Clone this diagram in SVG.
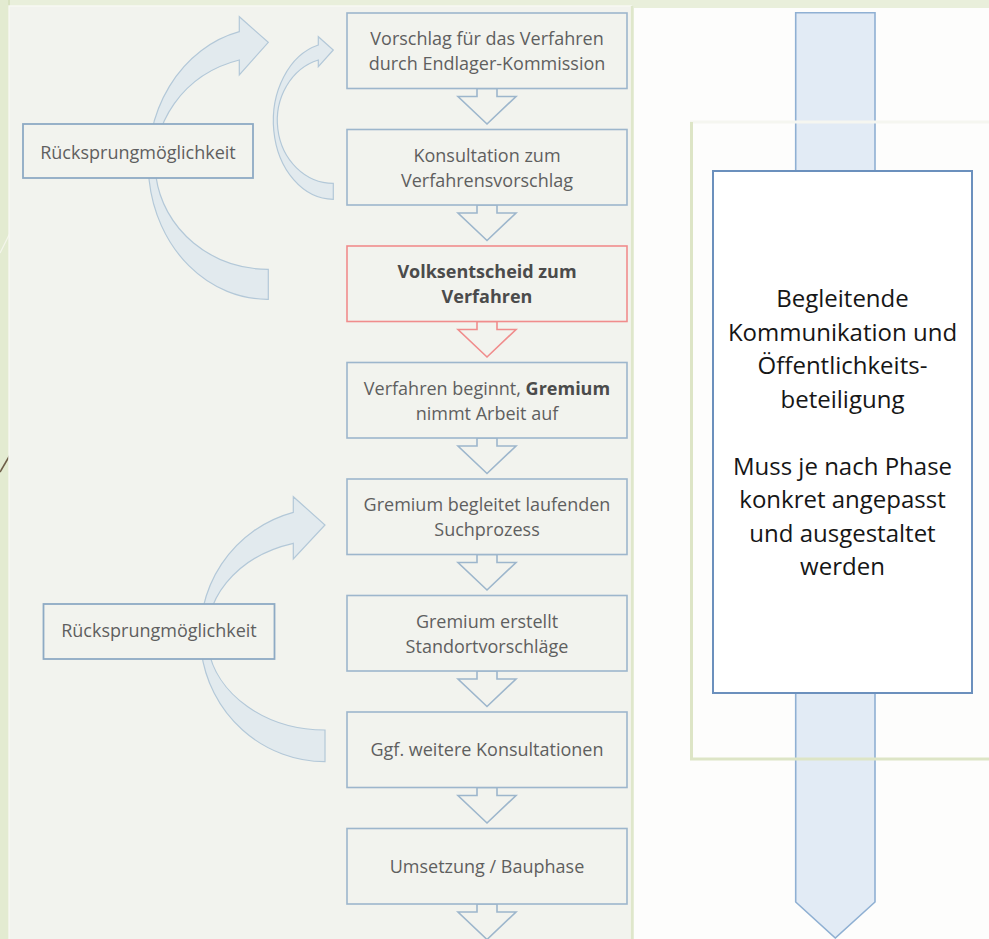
<svg xmlns="http://www.w3.org/2000/svg" width="989" height="939" viewBox="0 0 989 939">
<style>
.lbl{font-family:'Open Sans','Liberation Sans',sans-serif;font-size:18px;fill:#5f5f5f;text-anchor:middle}
.b{font-weight:bold;fill:#4b4b4b}
.step{fill:#f2f3ee;stroke:#9db6cc;stroke-width:1.6}
.red{fill:#f2f3ee;stroke:#f08c8c;stroke-width:1.6}
.jump{fill:#f2f3ee;stroke:#8eaac4;stroke-width:1.8}
.arr{fill:#f2f3ee;stroke:#9db6cc;stroke-width:1.6;stroke-linejoin:miter}
.arr.r{stroke:#f08c8c}
.curve{fill:#e2eaee;stroke:#b3c8d8;stroke-width:1.2}
.big{font-family:'Open Sans','Liberation Sans',sans-serif;font-size:24px;fill:#161616;text-anchor:middle}
</style>
<!-- backgrounds -->
<rect x="0" y="0" width="989" height="939" fill="#e9efdb"/>
<rect x="0" y="0" width="9" height="939" fill="#e3ebd1"/>
<line x1="9" y1="0" x2="9" y2="939" stroke="#d8e2c1" stroke-width="2"/>
<line x1="0" y1="472" x2="10" y2="455" stroke="#6e5e48" stroke-width="1.6"/>
<line x1="0" y1="253" x2="10" y2="233" stroke="#f4f6ec" stroke-width="1.2"/>
<rect x="9" y="6" width="622" height="940" fill="#f2f3ee" stroke="#f8f9f4" stroke-width="1.5"/>
<line x1="632" y1="6" x2="632" y2="939" stroke="#dfe7cb" stroke-width="2.5"/>
<rect x="634" y="8" width="355" height="931" fill="#fdfdfc"/>

<g id="connectors">
  <path class="curve" d="M268.3 299.3 A119 135.7 0 0 1 239.3 31.7 L239.3 16.7 L268.3 42.3 L239.3 75 L239.3 60 A113 106.4 0 0 0 268.3 269.3 Z"/>
  <path class="curve" d="M333.3 199.3 A60 78.4 0 0 1 318.3 45 L318.3 36.7 L333.3 50 L318.3 66.7 L318.3 60 A56 62.8 0 0 0 333.3 183.3 Z"/>
  <path class="curve" d="M325 761.7 A125 126.8 0 0 1 293.3 512.3 L293.3 496.7 L325 525 L293.3 559 L293.3 543.3 A118 95.1 0 0 0 325 730 Z"/>
  <path class="arr" d="M477 88.5 V96.5 H458 L487 124 L516 96.5 H497 V88.5 Z"/>
  <path class="arr" d="M477 205 V213 H458 L487 240.5 L516 213 H497 V205 Z"/>
  <path class="arr r" d="M477 321.5 V329.5 H458 L487 357 L516 329.5 H497 V321.5 Z"/>
  <path class="arr" d="M477 438 V446 H458 L487 473.5 L516 446 H497 V438 Z"/>
  <path class="arr" d="M477 554.5 V562.5 H458 L487 590 L516 562.5 H497 V554.5 Z"/>
  <path class="arr" d="M477 671 V679 H458 L487 706.5 L516 679 H497 V671 Z"/>
  <path class="arr" d="M477 787.5 V795.5 H458 L487 823 L516 795.5 H497 V787.5 Z"/>
  <path class="arr" d="M477 904 V912 H458 L487 939.5 L516 912 H497 V904 Z"/>
</g>

<g id="jump1">
  <rect class="jump" x="23" y="124" width="230" height="54"/>
  <text class="lbl" x="138" y="159">Rücksprungmöglichkeit</text>
</g>
<g id="jump2">
  <rect class="jump" x="43.5" y="604" width="231" height="55"/>
  <text class="lbl" x="159" y="637">Rücksprungmöglichkeit</text>
</g>

<g id="step1">
  <rect class="step" x="347" y="13" width="280" height="75.5"/>
  <text class="lbl" x="487" y="45">Vorschlag für das Verfahren</text>
  <text class="lbl" x="487" y="70">durch Endlager-Kommission</text>
</g>
<g id="step2">
  <rect class="step" x="347" y="129.5" width="280" height="75.5"/>
  <text class="lbl" x="487" y="161.5">Konsultation zum</text>
  <text class="lbl" x="487" y="186.5">Verfahrensvorschlag</text>
</g>
<g id="step3">
  <rect class="red" x="347" y="246" width="280" height="75.5"/>
  <text class="lbl b" x="487" y="278">Volksentscheid zum</text>
  <text class="lbl b" x="487" y="303">Verfahren</text>
</g>
<g id="step4">
  <rect class="step" x="347" y="362.5" width="280" height="75.5"/>
  <text class="lbl" x="487" y="394.5">Verfahren beginnt, <tspan class="b">Gremium</tspan></text>
  <text class="lbl" x="487" y="419.5">nimmt Arbeit auf</text>
</g>
<g id="step5">
  <rect class="step" x="347" y="479" width="280" height="75.5"/>
  <text class="lbl" x="487" y="511">Gremium begleitet laufenden</text>
  <text class="lbl" x="487" y="536">Suchprozess</text>
</g>
<g id="step6">
  <rect class="step" x="347" y="595.5" width="280" height="75.5"/>
  <text class="lbl" x="487" y="627.5">Gremium erstellt</text>
  <text class="lbl" x="487" y="652.5">Standortvorschläge</text>
</g>
<g id="step7">
  <rect class="step" x="347" y="712" width="280" height="75.5"/>
  <text class="lbl" x="487" y="756">Ggf. weitere Konsultationen</text>
</g>
<g id="step8">
  <rect class="step" x="347" y="828.5" width="280" height="75.5"/>
  <text class="lbl" x="487" y="872.5">Umsetzung / Bauphase</text>
</g>

<g id="communication">
  <path d="M795.7 12.7 H875 V902 L835.3 938 L795.7 902 Z" fill="#e2ebf5" stroke="#8fb0d3" stroke-width="1.6"/>
  <line x1="690" y1="122" x2="989" y2="122" stroke="#f5f6f0" stroke-width="3"/>
  <line x1="691.5" y1="122" x2="691.5" y2="759" stroke="#dde5c6" stroke-width="3"/>
  <line x1="690" y1="759" x2="989" y2="759" stroke="#dde5c6" stroke-width="3"/>
  <rect x="713" y="171" width="259" height="522" fill="#ffffff" stroke="#6b90bd" stroke-width="2"/>
  <text class="big" x="842.5" y="307">Begleitende</text>
  <text class="big" x="842.5" y="340.5">Kommunikation und</text>
  <text class="big" x="842.5" y="374">Öffentlichkeits-</text>
  <text class="big" x="842.5" y="407.5">beteiligung</text>
  <text class="big" x="842.5" y="474.5">Muss je nach Phase</text>
  <text class="big" x="842.5" y="508">konkret angepasst</text>
  <text class="big" x="842.5" y="541.5">und ausgestaltet</text>
  <text class="big" x="842.5" y="575">werden</text>
</g>
</svg>
